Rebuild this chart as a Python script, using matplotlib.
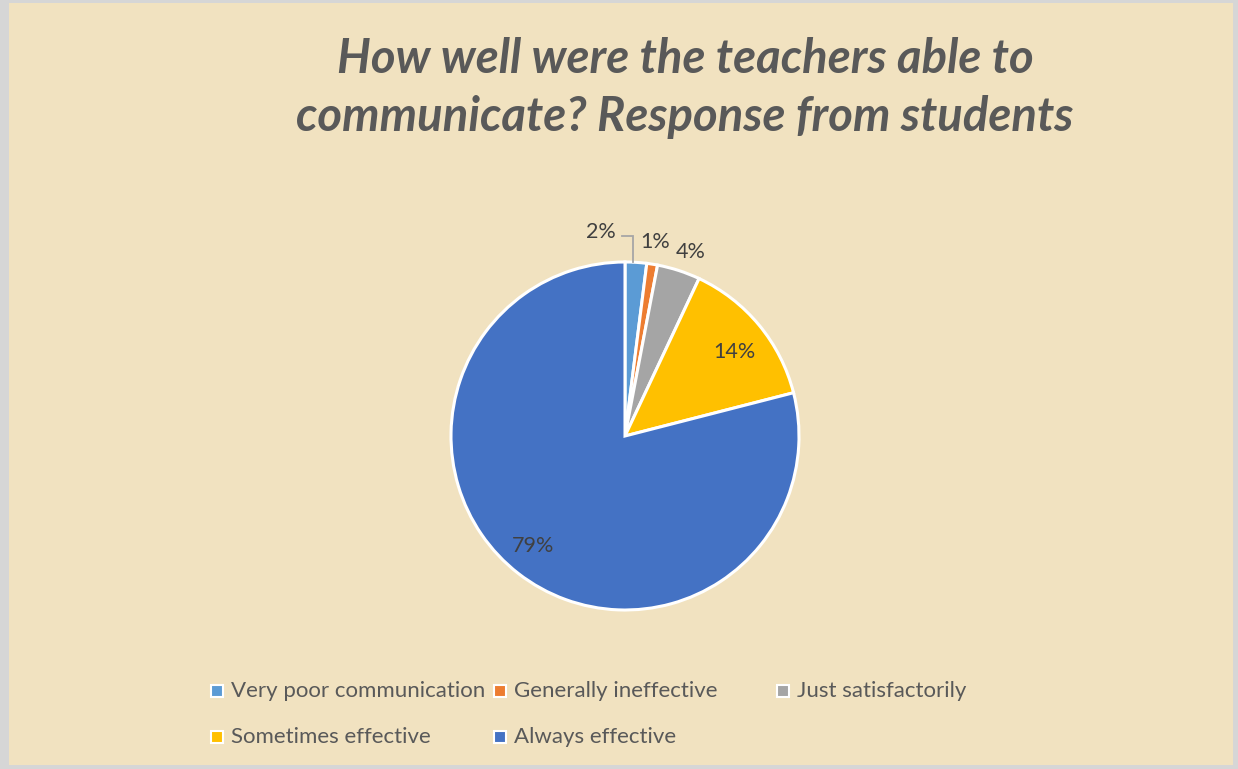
import matplotlib
matplotlib.use("Agg")
import matplotlib.pyplot as plt
from matplotlib.patches import Rectangle

categories = ["Very poor communication", "Generally ineffective", "Just satisfactorily",
              "Sometimes effective", "Always effective"]
values = [2, 1, 4, 14, 79]
labels = ["2%", "1%", "4%", "14%", "79%"]
colors = ["#5B9BD5", "#ED7D31", "#A5A5A5", "#FFC000", "#4472C4"]
title = "How well were the teachers able to\ncommunicate? Response from students"

W, H = 1238, 769
fig = plt.figure(figsize=(W / 100, H / 100), dpi=100)
fig.patch.set_facecolor("#D6D6D6")
ax = fig.add_axes([0, 0, 1, 1])

# parchment panel
ax.add_patch(Rectangle((9, 4), W - 14, H - 7, facecolor="#F1E2C0", edgecolor="none", zorder=0))

cx, cy, r = 625, H - 436, 174
wedges, _ = ax.pie(values, colors=colors, startangle=90, counterclock=False,
                   center=(cx, cy), radius=r, frame=True,
                   wedgeprops=dict(edgecolor="white", linewidth=2.2))
ax.set_xlim(0, W)
ax.set_ylim(0, H)
ax.set_aspect("equal")
ax.axis("off")

# data labels (pixel positions, top-left origin)
label_pos = [(601, 232), (655, 242), (691, 252), (734, 352), (533, 546)]
for lab, (x, y) in zip(labels, label_pos):
    ax.text(x, H - y, lab, ha="center", va="center", fontsize=15.5,
            color="#404040", family="Lato")
# leader line for 2%
ax.plot([622, 633, 633], [H - 236, H - 236, H - 262], color="#A6A6A6", lw=1.3,
        solid_joinstyle="miter")

# title
ax.text(685, H - 88, title, ha="center", va="center", fontsize=34,
        fontweight="bold", fontstyle="italic", color="#595959",
        family="Lato", linespacing=1.38)

# legend
leg_pos = [(217, 691), (500, 691), (783, 691), (217, 737), (500, 737)]
for name, col, (x, y) in zip(categories, colors, leg_pos):
    ax.add_patch(Rectangle((x - 6, H - y - 6), 12, 12, facecolor=col,
                           edgecolor="white", linewidth=1.5, zorder=3))
    ax.text(x + 14, H - y, name, ha="left", va="center", fontsize=16,
            color="#595959", family="Lato")

fig.savefig("out.png", dpi=100, facecolor=fig.get_facecolor())
